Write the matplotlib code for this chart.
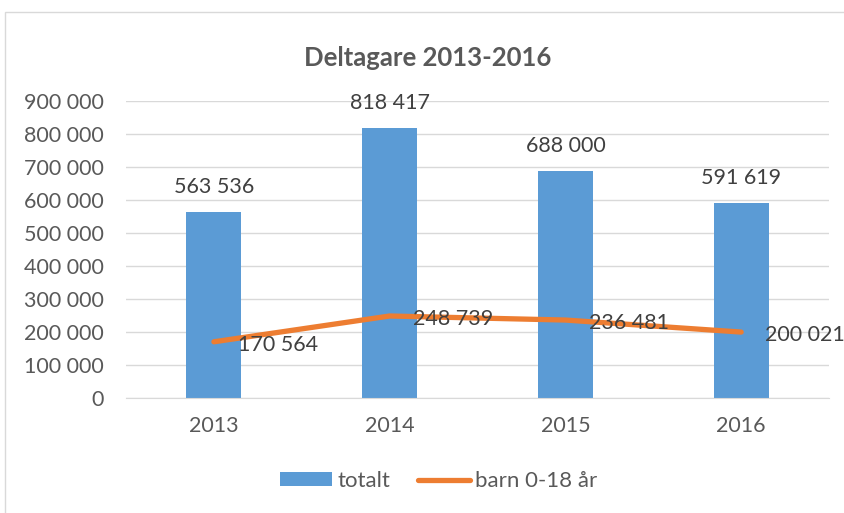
import matplotlib.pyplot as plt
from matplotlib.patches import Rectangle, Patch
from matplotlib.lines import Line2D

years = ['2013', '2014', '2015', '2016']
totalt = [563536, 818417, 688000, 591619]
barn = [170564, 248739, 236481, 200021]

plt.rcParams['font.family'] = ['Lato', 'DejaVu Sans']

def fmt(v):
    return f'{v:,}'.replace(',', ' ')

fig = plt.figure(figsize=(8.44, 5.13), dpi=100)
ax = fig.add_axes([0.1493, 0.224, 0.833, 0.579])

x = range(len(years))
ax.bar(x, totalt, width=0.313, color='#5B9BD5', zorder=2)
ax.plot(x, barn, color='#ED7D31', linewidth=3.8, solid_capstyle='round', zorder=3)

for i, v in enumerate(totalt):
    ax.annotate(fmt(v), (i, v), xytext=(0, 11), textcoords='offset points',
                ha='center', va='bottom', fontsize=15.5, color='#404040')
for i, v in enumerate(barn):
    ax.annotate(fmt(v), (i, v), xytext=(17, -2), textcoords='offset points',
                ha='left', va='center', fontsize=15.5, color='#404040', zorder=4)

ax.set_xlim(-0.5, 3.5)
ax.set_ylim(0, 900000)
ax.set_yticks(range(0, 900001, 100000))
ax.set_yticklabels([fmt(v) for v in range(0, 900001, 100000)])
ax.set_xticks(list(x))
ax.set_xticklabels(years)
ax.tick_params(axis='both', length=0, labelsize=15.5, colors='#595959')
ax.tick_params(axis='x', pad=13)
ax.tick_params(axis='y', pad=16)
ax.grid(axis='y', color='#D9D9D9', linewidth=1, zorder=0)
ax.set_axisbelow(True)
for s in ['top', 'right', 'left']:
    ax.spines[s].set_visible(False)
ax.spines['bottom'].set_color('#D9D9D9')

fig.text(0.507, 0.886, 'Deltagare 2013-2016', ha='center', va='center',
         fontsize=18.5, fontweight='bold', color='#595959')

handles = [Patch(facecolor='#5B9BD5', label='totalt'),
           Line2D([], [], color='#ED7D31', linewidth=3.8, solid_capstyle='round',
                  label='barn 0-18 år')]
fig.legend(handles=handles, loc='center', bbox_to_anchor=(0.52, 0.062), ncol=2,
           frameon=False, fontsize=16, labelcolor='#595959', handlelength=2.35,
           handleheight=0.6, handletextpad=0.25, columnspacing=1.2)

fig.patches.append(Rectangle((0.006, -0.01), 1.0, 0.987, transform=fig.transFigure,
                             fill=False, edgecolor='#D9D9D9', linewidth=1))

fig.savefig('out.png', dpi=100)
